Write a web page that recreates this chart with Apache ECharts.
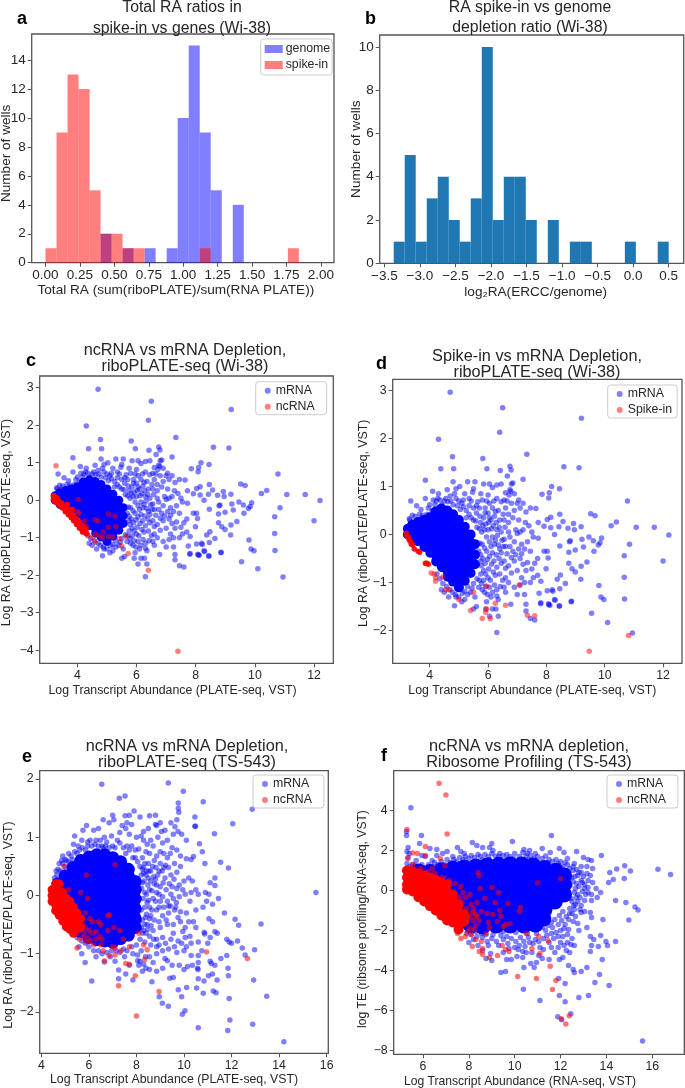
<!DOCTYPE html>
<html><head><meta charset="utf-8">
<style>html,body{margin:0;padding:0;background:#fff}#c{width:685px;height:1088px}</style>
<script src="https://cdn.jsdelivr.net/npm/echarts@6/dist/echarts.min.js"></script>
</head><body><div id="c"></div>
<script>
const raEdges=[0,.08,.16,.24,.32,.4,.48,.56,.64,.72,.8,.88,.96,1.04,1.12,1.2,1.28,1.36,1.44,1.52,1.6,1.68,1.76,1.84,1.92,2];
const raGenome=[0,0,0,0,0,2,0,1,0,1,0,1,10,15,9,5,0,4,0,0,0,0,0,0,0];
const raSpike=[1,9,13,12,5,2,2,1,1,0,0,0,0,0,1,0,0,0,0,0,0,0,1,0,0];
const ratioEdges=[-3.369,-3.214,-3.059,-2.904,-2.749,-2.594,-2.44,-2.285,-2.13,-1.975,-1.82,-1.665,-1.511,-1.356,-1.201,-1.046,-.891,-.736,-.582,-.427,-.272,-.117,.038,.191,.345,.5];
const ratioCounts=[1,5,1,3,4,2,1,3,10,2,4,4,2,0,2,0,1,1,0,0,0,1,0,0,1];

const wi38Mrna=[[4.7,2.96],[6.5,2.64],[9.2,2.42],[6.4,2.13],[4.3,1.98],[7.33,1.67],[4.78,1.62],[5.82,1.58],[6.75,1.42],[8.6,1.41],[9.12,1.39],[6.79,1.34],[6.42,1.33],[5.96,1.37],[4.38,1.37],[4.82,1.37],[7.2,1.15],[3.85,1.13],[6.66,1.22],[6.85,1.07],[8.18,1],[8.45,.95],[8.1,.87],[7.85,.84],[8.08,.76],[10.78,.7],[9.52,.43],[9.67,.39],[10.4,.26],[10.22,.18],[11.08,.15],[11.7,.15],[12.2,-.01],[12,-.55],[10.85,-.2],[10.67,-.44],[10.67,-.89],[10.68,-1.34],[9.8,-1.06],[9.87,-1.3],[9.97,-1.35],[9.55,-1.64],[10.1,-1.83],[10.95,-2.05],[7.6,-1.78],[7.45,-1.75],[6.3,-2.04],[7.3,-1.59],[6.05,-1.7],[8.85,-1.4],[8.44,-1.49],[8.12,-1.47],[8.07,-1.44],[7.8,-1.44],[8.3,-1.37],
[7.64,.54],[7.72,.25],[7.92,.17],[8.03,.31],[8.15,.36],[8.46,.42],[8.57,.27],[8.43,.16],[8.74,.13],[8.93,.23],[8.96,.1],[9.19,.16],[9.22,-.1],[9.46,-.05],[9.27,-.26],[8.99,-.32],[8.77,-.37],[8.79,-.15],[8.82,-.13],[8.46,-.24],[8.28,0],[8.15,.14],[7.92,-.35],[8.06,-.49],[8.03,-.35],[7.72,-.08],[8.2,-1.15],[8.37,-.93],[8.48,-.84],[8.65,-1.02],[8.77,-.6],[8.88,-.71],[8.99,-.78],[9.19,-.66],[9.18,-.93],[9.39,-.57],[9.61,-.13],[9.89,-.07],[9.84,-.17],[9.78,-.22],[9.63,-.35],[7.99,-.71],[7.81,-.97],[7.75,-1.22],[8.03,-1.17],[8.22,-1.18],[8.46,-1.13],[7.81,-1.42],[8.09,-1.46],[8.28,-1.35],[8.45,-1.49],[8.86,-1.39],
[7.3,.47],[7.45,.55],[7.05,.72],[7.2,.65],[6.9,.85],[6.75,.93],[6.78,.9],[6.6,.87],[6.8,1.05],[6.45,1.05],[6.3,1.03],[6.05,1.05],[6.15,.98],[5.85,1.05],[5.55,1.1],[5.3,1.1],[5.03,1],[4.9,.95],[4.6,.93],[4.8,1.1],[4.22,.7],[3.85,.75],[3.35,.7],[3.55,.6],[3.7,.52],[3.3,.33],[3.4,.4],[4.3,.85],[4.1,.9],[4.7,.8],[4.85,.85],[5.2,.85],[5.5,.95],[5.47,.88],[5.75,.85],[6,.82],[6.3,.75],[6.65,.7],[6.8,.65],[7,.65],[7.1,.55],[6.9,.5],[6.7,.42],[6.6,.55],[6.35,.5],[6.05,.65],[5.9,.55],[5.65,.68],[6.15,.55],[6.4,.3],[6.7,.25],[6.85,.35],[7.05,.3],[7.28,.25],[7.2,.1],[7.1,.05],[6.95,.1],[7.4,.18],[7.5,.05],[7.55,-.05],[7.35,-.15],[7.15,-.2],[7.05,-.3],[6.9,-.15],[6.75,-.05],[6.55,-.1],[6.3,.1],[6.15,-.05],[6.4,-.3],[6.65,-.4],[6.9,-.55],[7.1,-.5],[7.2,-.62],[7.35,-.58],[7.3,-.75],[7.15,-.9],[7,-.75],[6.8,-.8],[6.6,-.7],[6.45,-.6],[6.2,-.55],[6.25,-.85],[6.5,-.95],[6.7,-1],[6.9,-1.1],[7.1,-1.05],[7.25,-1],[7.45,-1],[7.55,-.9],[7.7,-.85],[7.6,-.6],[7.45,-.35],[7.7,-.5],[7.25,-1.25],[7.3,-1.45],[7,-1.25],[6.78,-1.45],[6.6,-1.2],[6.35,-1.35],[6.3,-1.15],[6.15,-1.2],[5.95,-1.4],[5.92,-1.55],[6.15,-1.55],[6.27,-1.55],[6.35,-1.7],[5.6,-1.5],[5.5,-1.55],[5.8,-1.15],[5.55,-1.3],[5.7,-.95],[6,-.9],[5.85,-.75],[5.75,-.55],[5.95,-.35],[6.1,-.25],[5.8,-.2],[6,.1],[5.75,.25],[5.85,.35],[6.1,.3],[6,.45],[5.6,.45],[5.5,.55],[5.35,.6],[5.1,.65],[5,.7],[5.25,.5],[4.9,-1.3],[5.1,-1.4],[4.85,-1.48],[5.3,-1.25],[4.65,-1.3],[4.5,-1.2],[4.4,-1.15],[5.2,-1.35]];
const wi38Fringe=[[3.32,.3],[3.45,.28],[3.5,.38],[3.65,.42],[3.75,.4],[3.9,.42],[3.95,.55],[4,.62],[4.08,.5],[4.12,.72],[4.18,.62],[4.28,.75],[4.35,.72],[4.42,.62],[4.5,.7],[4.55,.75],[4.62,.68],[4.72,.7],[4.8,.62],[4.9,.75],[4.95,.6],[5.05,.52],[5.15,.58],[5.25,.35],[5.35,.42],[5.42,.35],[5.5,.3],[5.58,.28],[5.62,.15],[5.7,.12],[5.72,.38],[5.78,.05],[5.82,.18],[5.88,.1],[5.92,.22],[5.95,-.05],[6.02,.25],[6.05,-.15],[6.12,.12],[6.18,.18],[6.22,.38],[6.25,-.12],[6.28,.25],[6.32,-.02],[6.38,.15],[6.45,.05],[6.48,-.12],[6.52,.42],[6.58,.15],[6.6,-.25],[5.68,-.35],[5.72,-.18],[5.75,-.42],[5.78,-.65],[5.82,-.5],[5.88,-.28],[5.9,-.6],[5.92,-.82],[5.98,-.52],[6.02,-.72],[6.05,-.45],[6.08,-.95],[6.12,-.62],[6.15,-.38],[6.18,-.78],[6.22,-.2],[6.28,-.42],[6.3,-.68],[6.35,-.22],[6.38,-.5],[6.4,-.82],[6.45,-.38],[6.52,-.25],[6.55,-.55],[6.6,-.9],[6.7,-.65],[6.75,-.25],[6.8,-.48],[5.62,-.92],[5.68,-1.1],[5.75,-.82],[5.78,-1.02],[5.85,-.95],[5.88,-1.2],[5.92,-1.08],[5.98,-1.25],[6.05,-1.1],[6.1,-1.3],[6.22,-1.05],[6.3,-1.28],[6.42,-1.08],[6.55,-1.1],[5.5,-1.02],[5.45,-1.12],[5.4,-1.2],[5.3,-1.08],[5.2,-1.18],[5.12,-1.22],[5,-1.3],[4.88,-1.25],[4.78,-1.2],[4.7,-1.15],[4.58,-1.08],[4.45,-1.02],[4.35,-.92],[4.25,-.82],[5.15,.72],[5.35,.75],[5.42,.7],[5.6,.6],[5.7,.55],[5.8,.72],[5.95,.7],[6.2,.7],[6.45,.68],[6.55,.72],[6.72,.82],[3.48,.2],[3.55,.25],[3.7,.32],[5.9,.45],[6.05,.35],[6.25,.48],[6.55,.3],[6.7,.05],[6.85,-.35],[7,.02],[7.15,-.4],[6.95,-.42],[7.25,-.3],[7.5,-.72]];
const wi38Core=[[3.25,.12],[3.25,0],[3.4,.2],[3.4,.08],[3.4,-.04],[3.42,-.12],[3.6,.26],[3.6,.12],[3.6,-.02],[3.6,-.14],[3.8,.3],[3.8,.16],[3.8,.02],[3.8,-.12],[3.82,-.26],[4,.36],[4,.22],[4,.08],[4,-.06],[4,-.22],[4.02,-.38],[4.2,.48],[4.2,.34],[4.2,.18],[4.2,.02],[4.2,-.12],[4.2,-.28],[4.2,-.42],[4.22,-.56],[4.4,.54],[4.4,.38],[4.4,.22],[4.4,.06],[4.4,-.1],[4.4,-.26],[4.4,-.42],[4.4,-.56],[4.42,-.68],[4.6,.5],[4.6,.34],[4.6,.18],[4.6,.02],[4.6,-.14],[4.6,-.3],[4.6,-.46],[4.6,-.62],[4.62,-.78],[4.62,-.88],[4.8,.42],[4.8,.26],[4.8,.1],[4.8,-.06],[4.8,-.22],[4.8,-.38],[4.8,-.54],[4.8,-.7],[4.8,-.86],[4.8,-.98],[5,.3],[5,.14],[5,-.02],[5,-.18],[5,-.34],[5,-.5],[5,-.66],[5,-.82],[5,-.98],[5,-1.1],[5.2,.16],[5.2,0],[5.2,-.16],[5.2,-.32],[5.2,-.48],[5.2,-.64],[5.2,-.8],[5.2,-.96],[5.4,0],[5.4,-.16],[5.4,-.32],[5.4,-.48],[5.4,-.64],[5.4,-.8],[5.55,-.2],[5.55,-.42],[5.55,-.62]];
const wi38Nc=[[3.28,.92],[4.03,.02],[4.6,-.52],[5.05,-.37],[5.27,-.42],[5.3,-.7],[5.05,-.72],[4.88,-.85],[4.72,-.95],[4.6,-.9],[4.5,-1],[4.6,-1.12],[4.85,-1],[5.05,-.97],[5.2,-.98],[5.42,-1.03],[5.65,-.97],[5.5,-1.22],[5.72,-1.42],[6.4,-1.87],[7.4,-4.03],[4.05,-.35],[4.25,-.55],[4,-.3],[4.35,-.95],[4.7,-.55],[4.3,-.7]];
const wi38NcCore=[[3.2,.12],[3.2,.04],[3.22,-.02],[3.3,.06],[3.3,-.06],[3.36,-.02],[3.4,-.14],[3.46,-.08],[3.5,-.2],[3.56,-.16],[3.6,-.3],[3.66,-.24],[3.7,-.38],[3.76,-.32],[3.8,-.46],[3.86,-.4],[3.88,-.54],[3.96,-.5],[3.98,-.64],[4.06,-.58],[4.08,-.74],[4.16,-.68],[4.18,-.84],[4.28,-.78],[4.3,-.88],[3.65,-.12],[3.82,-.25]];
const wi38Spike=[[4.05,-.8],[4.15,-.82],[4.2,-.9],[4.2,-.97],[4.45,-.88],[4.55,-1.15],[4.65,-1.15],[5,-1.35],[5.4,-1.58],[5.5,-1.2],[5.95,-1.07],[5.95,-1.55],[6.25,-1.43],[6.6,-1.47],[7.07,-1.05],[7.35,-1.68],[7.6,-1.69],[5.8,-1.75],[6.08,-1.75],[5.92,-1.62],[10.82,-2.1],[9.47,-2.43]];
const wi38SpikeCore=[[3.2,.02],[3.22,-.03],[3.27,-.06],[3.3,-.12],[3.35,-.15],[3.37,-.2],[3.42,-.22],[3.47,-.3],[3.6,-.35],[3.65,-.37],[3.85,-.6],[3.9,-.6],[3.95,-.62]];

const ts543Mrna=[[6.54,1.91],[9.34,1.93],[9.97,1.79],[10.81,1.61],[7.28,1.67],[7.52,1.71],[9.76,1.59],[9.76,1.5],[9.78,1.43],[12.87,1.48],[12.05,1.23],[11.28,1.06],[10.46,1.19],[10.48,1.19],[10.46,1.35],[10.65,.89],[10.77,.75],[10.88,.55],[11.54,.57],[11.87,.47],[15.55,.05],[13.24,-.49],[12.15,-.41],[12.3,-.51],[11.7,-.3],[12.97,-.93],[12.57,-1.02],[13.48,-1.73],[12.93,-1.45],[12.89,-2.21],[14.2,-2.51],[11.84,-2.32],[11.93,-2.14],[10.6,-2.27],[11.9,-1.77],[6.12,-1.47],[5.84,-1.15],[5.7,-1],[5.58,-.88],[9.93,-2.04],[10.04,-1.98],[9.34,-1.9],[9.09,-1.85],[8.96,-1.74],[9.76,-1.62],[9.9,-1.74],[10.53,-1.59],[10.11,-1.58],[10.81,-1.68],[11.23,-1.64],[11.35,-1.67],[11.39,-1.45],[10.84,-1.47],[10.57,-1.25],[10.59,-1.27],
[7.9,1.45],[7.7,1.38],[7.52,1.37],[7,1.38],[6.6,1.3],[6.85,1.25],[7.05,1.3],[7.6,1.25],[8.15,1.35],[8.55,1.37],[8.8,1.38],[9,1.25],[8.8,1.22],[8.85,1.2],[7.4,1.2],[7.55,1.15],[7.8,1.22],[8.3,1.1],[8.5,1.15],[9.05,1.1],[9.2,1.12],[9.45,1.25],[9.7,1.3],[9.55,1.05],[9.75,1.1],[9.9,1.05],[10.1,.95],[9.3,.95],[9.1,.9],[8.9,1],[8.6,.95],[8.3,.95],[8,1],[7.7,1.05],[7.3,1.08],[6.95,1.02],[6.65,1],[6.4,1.15],[6.2,1.12],[5.9,1.2],[5.75,1.12],[5.4,1.02],[5.7,.95],[5.35,.88],[5.55,.85],[5.15,.72],[5.4,.75],[4.9,.68],[4.85,.6],[4.75,.55],[5.05,.6],[4.7,.45],[7.8,.85],[8.1,.8],[8.4,.75],[8.7,.85],[9,.75],[9.3,.65],[9.5,.82],[9.7,.78],[9.85,.68],[10.1,.63],[10.3,.62],[10.4,.67],[9.85,.5],[9.6,.55],[9.35,.48],[9,.55],[8.75,.6],[8.5,.55],[8.9,.35],[9.2,.3],[9.45,.35],[9.7,.4],[10,.25],[10.2,.3],[9.8,.18],[9.5,.15],[9.25,.1],[9,.15],[8.75,.2],[8.55,.1],[8.7,-.05],[9,-.1],[9.3,-.1],[9.55,-.05],[9.8,-.02],[10.05,.02],[10.3,.05],[10.25,-.1],[10.5,.1],[10.35,.25],[10.6,.02],[10.9,.05],[11.05,.02],[11.1,.22],[11.3,.17],[11.3,.3],[11.45,-.05],[11.2,-.15],[10.95,-.1],[10.8,-.2],[11.05,-.4],[11.2,-.45],[10.5,-.25],[10.1,-.3],[9.85,-.28],[9.6,-.25],[9.35,-.3],[9.1,-.35],[8.85,-.25],[8.6,-.35],[8.45,-.5],[8.7,-.6],[9,-.55],[9.3,-.5],[9.55,-.5],[9.85,-.45],[10.05,-.55],[10.4,-.45],[10.5,-.55],[10.85,-.63],[10.87,-.66],[11.1,-.72],[11.3,-.62],[11.4,-.65],[11.8,-.75],[11.9,-.8],[12,-.82],[12.25,-.78],[12.45,-.9],[10.6,-.8],[10.3,-.82],[10.05,-.72],[9.75,-.78],[9.45,-.75],[9.1,-.72],[8.85,-.75],[8.6,-.85],[8.35,-.8],[8.2,-.95],[8.55,-1.05],[8.85,-1],[9.1,-.95],[9.35,-.92],[9.7,-.98],[10,-.95],[10.1,-.88],[10.3,-1.03],[10.6,-1.03],[10.6,-1.15],[11.1,-1.13],[11.15,-1.17],[11.3,-1.2],[11.55,-1.08],[11.8,-1.03],[11.85,-1.25],[11.87,-1.38],[11.2,-1.35],[11.03,-1.38],[10.6,-1.43],[10.15,-1.22],[10,-1.27],[9.8,-1.2],[9.5,-1.2],[9.1,-1.25],[8.85,-1.3],[8.55,-1.27],[8.4,-1.25],[8.1,-1.2],[7.85,-1.45],[7.55,-1.35],[7.25,-1.43],[7.25,-1.28],[7.7,-1.2],[8.25,-1.3],[8.65,-1.48],[9.4,-1.42],[9.55,-1.41],[6.65,-1.14],[6.3,-1.05],[6.9,-1.05],[7.1,-1.13],[7.5,-1.05],[7.85,-1],[8.15,-1.13],[8.05,-1.12],[8.85,-.88],[5.7,.2],[8.35,.55],[8.2,.35],[8.5,.3],[8.35,.05],[8.55,-.2],[7.95,.65],[8.25,.65],[7.6,.85],[7.3,.9],[7,.85],[6.7,.85],[6.3,.95],[6.05,.95],[5.95,.85],[6.55,.85],[4.6,.25],[4.65,.35],[5,.5],[5.2,.5]];
const ts543Fringe=[[4.55,.3],[4.62,.42],[4.8,.42],[4.9,.55],[5,.62],[5.15,.58],[5.25,.68],[5.3,.62],[5.5,.72],[5.6,.78],[5.72,.82],[5.85,.78],[5.95,.92],[6.12,.85],[6.25,.88],[6.4,.85],[6.48,.95],[6.6,.82],[6.75,.92],[6.85,.82],[7.1,.82],[7.2,.95],[7.45,.82],[7.55,.72],[7.7,.78],[7.85,.65],[7.95,.78],[8.05,.58],[8.15,.5],[8.25,.45],[8.3,.38],[8.42,.42],[8.48,.18],[8.6,.42],[8.65,.08],[8.72,.32],[8.82,.48],[8.85,.05],[8.95,.42],[9.08,.42],[9.12,.22],[9.22,.52],[9.38,.2],[9.45,.02],[9.58,.28],[9.1,-.02],[8.95,-.2],[8.8,-.1],[8.65,-.25],[8.55,-.4],[8.42,-.32],[8.5,-.08],[8.75,-.42],[8.95,-.45],[9.15,-.2],[9.25,-.42],[9.42,-.18],[9.68,-.12],[9.75,-.38],[8.4,-.65],[8.55,-.7],[8.72,-.75],[8.3,-.6],[8.15,-.75],[8,-.85],[7.8,-.88],[7.6,-.95],[7.45,-.92],[7.3,-.98],[7.15,-.95],[6.95,-.95],[6.75,-.98],[6.55,-1],[6.4,-.95],[6.2,-.95],[6,-.88],[5.85,-.82],[5.7,-.78],[5.5,-.72],[8.95,-.85],[9.22,-.82],[9.55,-.65],[9.95,-.62],[9.2,-1.08],[8.7,-1.15],[8.38,-1.05],[8.05,-1.02],[9.6,-.88],[9.9,-.82],[9.62,1.18],[8.2,1.02],[8.45,.88],[8.55,.72],[8.85,.68],[9.15,.72],[9.42,.72],[8.6,.25],[8.32,.25],[8.45,-.12],[9.7,.12],[9.95,.1],[9.65,-.2],[8.25,-.42],[8.35,-.2],[8.35,-.5],[9.15,.48],[8.95,.02],[8.85,.18],[9.35,-.18],[10.2,-.45],[10.25,-.7],[11,-.82],[10.75,-.95],[10.35,-1.2],[9.3,-1.12],[8.3,-1.18],[8.22,.12],[8.28,-.05],[8.4,.35],[8.42,.02],[8.3,.48],[8.52,.42],[8.38,-.38],[8.48,-.58],[8.2,-.55],[8.25,.22],[8.62,-.52],[8.68,.5],[8.8,.28],[8.2,-.25],[8.12,-.45],[8.25,-.65]];
const ts543Core=[[4.7,.2],[4.7,.03],[4.7,-.14],[5,.34],[5,.2],[5,.06],[5,-.11],[5,-.28],[5.33,.48],[5.33,.34],[5.33,.21],[5.33,.04],[5.33,-.13],[5.33,-.3],[5.33,-.47],[5.66,.6],[5.66,.45],[5.66,.31],[5.66,.14],[5.66,-.03],[5.66,-.2],[5.66,-.37],[5.66,-.54],[5.66,-.62],[6,.66],[6,.52],[6,.38],[6,.21],[6,.04],[6,-.13],[6,-.3],[6,-.47],[6,-.64],[6,-.72],[6.33,.7],[6.33,.56],[6.33,.41],[6.33,.24],[6.33,.07],[6.33,-.1],[6.33,-.27],[6.33,-.44],[6.33,-.61],[6.33,-.76],[6.66,.7],[6.66,.56],[6.66,.41],[6.66,.24],[6.66,.07],[6.66,-.1],[6.66,-.27],[6.66,-.44],[6.66,-.61],[6.66,-.78],[7,.65],[7,.53],[7,.36],[7,.19],[7,.02],[7,-.15],[7,-.32],[7,-.49],[7,-.66],[7,-.8],[7.33,.58],[7.33,.45],[7.33,.28],[7.33,.11],[7.33,-.06],[7.33,-.23],[7.33,-.4],[7.33,-.57],[7.33,-.74],[7.66,.45],[7.66,.33],[7.66,.16],[7.66,-.01],[7.66,-.18],[7.66,-.35],[7.66,-.52],[7.66,-.68],[7.95,.24],[7.95,.1],[7.95,-.06],[7.95,-.23],[7.95,-.4],[7.95,-.55]];
const ts543Nc=[[4.95,.5],[7.1,.53],[5.9,.35],[5.15,.1],[5.65,.05],[5.95,-.05],[5.75,-.5],[6.05,-.4],[6.15,-.45],[6.4,-.45],[6.3,-.62],[6.45,-.7],[6.8,-.35],[6.85,-.33],[7.05,-.55],[7.3,-.6],[7.45,-.75],[6.8,-.6],[6.55,-.75],[6.2,-.85],[5.9,-.8],[5.6,-.75],[5.45,-.65],[6.5,-.85],[6.6,-.95],[7.1,-.9],[7,-.88],[7.35,-.95],[7.1,-1.02],[6.85,-1.03],[6.65,-1.12],[7.55,-1.17],[7.7,-1.18],[7.7,-.88],[8.1,-.65],[8.3,-.85],[8.45,-.93],[8.35,-1.1],[7.95,-1.38],[7.25,-1.55],[8.95,-1.65],[8,-2.07],[10.95,-.97],[12.67,-1.08],[5.5,-.9],[6,-.6],[5.85,-.3],[6.5,-.5],[5.8,-.65],[5.95,-.72],[6.05,-.78],[6.3,-.75],[6.15,-.65],[5.75,-.72],[5.85,-.55],[5.55,-.62]];
const ts543NcCore=[[4.45,.1],[4.45,0],[4.45,-.1],[4.6,.2],[4.6,.08],[4.6,-.04],[4.6,-.16],[4.6,-.26],[4.75,.2],[4.75,.05],[4.75,-.1],[4.75,-.22],[4.75,-.34],[4.9,.05],[4.9,-.08],[4.9,-.2],[4.9,-.32],[4.9,-.44],[5.05,-.05],[5.05,-.17],[5.05,-.3],[5.05,-.42],[5.05,-.54],[5.2,-.1],[5.2,-.22],[5.2,-.34],[5.2,-.46],[5.2,-.58],[5.35,-.2],[5.35,-.32],[5.35,-.44],[5.35,-.56],[5.35,-.65],[5.5,-.3],[5.5,-.42],[5.5,-.54],[5.65,-.4],[5.65,-.55]];

const teMrna=[[5.47,4.13],[5.28,2.95],[5.28,2.75],[5.93,2.75],[5.85,2.35],[6.3,2.1],[6.6,2.05],[5.35,2.15],[5.3,1.95],[5.4,1.85],[5.35,1.65],[5.3,1.35],[5.42,1.2],[5.7,1.5],[5.95,1.75],[6.1,1.7],[6.6,1.75],[6.85,1.85],[7.05,1.95],[7.3,1.7],[7.5,2.15],[7.65,1.95],[7.8,1.85],[8.15,2.4],[8.35,2.25],[8.6,2.15],[8.9,2.15],[9,2.35],[9.05,2],[9.35,1.85],[9.9,2.45],[10.4,2.05],[10.55,1.85],[10.65,2],[11.6,2.75],[11.2,2.1],[11.95,2.1],[12.15,1.9],[12.7,1.95],[11.55,1.9],[10.9,1.85],[12.3,1.6],[13,1.65],[13.2,1.55],[13.35,1.5],[13.4,1.1],[13.15,1.2],[13.78,1.75],[14.15,.9],[14.45,1.07],[14.8,1.23],[14.78,.6],[14.3,.55],[14.1,.4],[15.05,.97],[16.25,1.06],[16.8,.8],[12.9,1.2],[12.8,.9],[13,.7],[13.2,.5],[13.4,.4],[13.55,.1],[13.75,-.1],[13.6,-.35],[13.35,-.5],[14.4,-.5],[14.85,-.6],[15.25,-.83],[15.38,-.98],[14.98,-1.48],[13.05,-.5],[12.9,-.75],[12.9,-1.1],[13.35,-1.35],[13.85,-1.45],[12.65,-1.3],[12.75,-1.65],[12.8,-2],[13.15,-1.85],[13.3,-2.3],[13.45,-2.45],[13.75,-2.25],[13.98,-2.55],[14.05,-2.75],[14.4,-2.55],[13.35,-2.75],[13.65,-2.8],[13.3,-3.05],[13.82,-3.45],[13.15,-3.85],[12.9,-4.05],[13.7,-4.2],[13.5,-4.6],[14.12,-4.75],[13.22,-5.25],[12.8,-5.35],[12.2,-5.55],[11.95,-5.25],[11.1,-5.5],[10.38,-4.93],[12.45,-6.15],[11.88,-6.3],[12.05,-6.45],[15.58,-7.52],[12.2,-4.65],[11.92,-4.4],[12.55,-3.95],[12.35,-3.75],[12.6,-4.1],[12.1,-3.35],[11.95,-3.45],[12.4,-3.1],[12.6,-2.75],[12.45,-2.7],[12,-2.6],[11.75,-3.1],[11.5,-3.45],[11.2,-3.4],[11.05,-3.25],[10.95,-3.6],[10.85,-3.85],[10.7,-3.65],[10.4,-3.85],[10.35,-3.35],[10.1,-3.3],[9.85,-3.45],[9.65,-3.45],[9.6,-4.05],[9.4,-4.1],[9,-3.5],[8.75,-3.4],[8.95,-3.15],[8.6,-3],[8.4,-2.75],[8,-2.6],[9.5,-3.1],[9.75,-2.9],[10.2,-2.75],[10.45,-2.8],[10.65,-2.6],[11.1,-2.85],[11.5,-2.6],[11.7,-2.4],[10.9,-2.45],[12.1,-2.3],[12.3,-2.2],[12.5,-2.4],[9,-2.4],[9.5,-2.45],[8.6,-2.35],[13.05,-1.05],[13.3,-1.1],[13.2,-.1],[13.05,.1],[12.65,-.7],[12.75,-.2],[12.8,.2],[12.9,.5],[12.55,1],[12.6,1.35],[12.2,1.4],[11.8,1.55],[5.3,1],[5.5,1.05],[5.65,1.25]];
const teFringe=[[5.55,1.3],[5.8,1.2],[5.95,1.3],[6.1,1.15],[6.25,1.3],[6.4,1.2],[6.5,1.4],[6.65,1.3],[6.8,1.45],[6.95,1.3],[7.05,1.55],[7.2,1.4],[7.35,1.55],[7.45,1.45],[7.6,1.65],[7.75,1.55],[7.85,1.7],[8,1.6],[8.1,1.75],[8.25,1.65],[8.4,1.8],[8.5,1.7],[8.7,1.8],[8.85,1.7],[9,1.85],[9.15,1.72],[9.3,1.7],[9.5,1.75],[9.65,1.8],[9.8,1.7],[10,1.85],[10.2,1.7],[10.35,1.9],[10.5,1.72],[10.7,1.75],[10.85,1.6],[11,1.7],[11.2,1.6],[11.35,1.72],[11.5,1.55],[11.65,1.45],[11.9,1.35],[12,1.45],[12.1,1.2],[12.3,1.3],[12.4,1.1],[12.55,1.2],[12.7,1.05],[12.75,.75],[12.9,.9],[12.95,.4],[13.05,.3],[13.15,.85],[13.2,.15],[13.3,.75],[13.35,-.2],[13.1,-.2],[12.85,-.35],[12.95,-.05],[12.6,-.95],[12.75,-.55],[12.85,-.95],[12.5,-1.15],[12.35,-1.45],[12.55,-1.55],[12.2,-1.7],[12.35,-1.95],[12,-2],[12.15,-1.9],[11.8,-2.1],[11.9,-2.3],[11.6,-2.15],[11.4,-2.25],[11.25,-2.4],[11.05,-2.55],[10.8,-2.65],[10.6,-2.35],[10.4,-2.55],[10.25,-2.35],[10.05,-2.55],[9.85,-2.4],[9.65,-2.3],[9.4,-2.25],[9.2,-2.55],[9.05,-2.2],[8.8,-2.55],[8.75,-2.2],[8.55,-2.15],[8.35,-2.3],[8.2,-2.45],[8.1,-2.2],[7.9,-2.15],[8.3,-2.05],[8.85,-2.75],[9.3,-2.75],[10,-2.85],[10.35,-3.05],[10.5,-3.1],[10.15,-2.95],[10.75,-3.1],[11.25,-2.95],[11.6,-2.85],[12.15,-2.75],[12.25,-3],[11.9,-2.85],[12.3,-2.6],[9.7,-2.65],[10.55,-2.15],[10.95,-2.15],[11.35,-2],[11.65,-1.85],[11.9,-1.7],[12.05,-1.5],[12.25,-1.3],[12.4,-.9],[12.45,-.4],[12.65,.1],[6.4,1.5],[7.6,1.35],[8.6,1.55],[9.65,1.55],[10.6,1.55],[11.45,1.4],[7.75,1.35],[8.9,1.55],[9.95,1.6],[10.25,1.5],[11,1.45],[7.15,1.2],[6.7,1.15],[12.55,.45],[12.62,.7],[12.7,.35],[12.6,-.1],[12.68,-.35],[12.5,-.55],[12.4,-1.15],[12.58,-.75],[12.42,.25],[12.48,.65],[12.35,.85],[11.75,-1.45],[11.95,-1.25],[12.1,-1.05],[11.6,-1.6],[11.45,-1.75],[11.2,-1.85],[10.05,-2.1],[9.5,-2.05]];
const teCore=[[5.8,.95],[6.3,.92],[6.8,1],[7.3,1.08],[7.8,1.15],[8.3,1.2],[8.8,1.25],[9.3,1.28],[9.8,1.3],[10.3,1.3],[10.8,1.25],[11.3,1.12],[11.8,.98],[12.15,.75],[7.3,.5],[7.8,.65],[8.3,.7],[8.8,.8],[9.3,.85],[9.8,.85],[10.3,.85],[10.8,.8],[11.3,.7],[11.8,.5],[12.15,.3],[7.3,0],[7.8,.1],[8.3,.15],[8.8,.25],[9.3,.3],[9.8,.3],[10.3,.3],[10.8,.25],[11.3,.15],[11.8,0],[12.15,-.2],[7.3,-.5],[7.8,-.45],[8.3,-.4],[8.8,-.3],[9.3,-.25],[9.8,-.25],[10.3,-.25],[10.8,-.3],[11.3,-.4],[11.75,-.55],[7.4,-1],[7.8,-1],[8.3,-.95],[8.8,-.85],[9.3,-.8],[9.8,-.8],[10.3,-.8],[10.8,-.85],[11.3,-.95],[7.6,-1.55],[8.3,-1.5],[8.8,-1.4],[9.3,-1.35],[9.8,-1.35],[10.3,-1.35],[10.8,-1.4],[11.25,-1.4],[8.1,-1.75],[8.6,-1.8],[9.2,-1.75],[9.8,-1.75],[10.4,-1.75],[10.9,-1.7],[6,.5],[6.5,.5],[6.8,.3],[6.9,-.7],[7.1,-1.2]];
const teNc=[[6.7,5.35],[7,4.77],[5.3,3.05],[7.05,2.82],[6.1,2.2],[5.55,1.87],[5.75,1.85],[6.1,1.75],[6.75,1.6],[6.95,1.25],[5.33,1.6],[6.4,1.1],[8.4,.9],[8.45,.75],[11,.38],[12,.58],[8.5,.1],[9,.15],[9.7,-.65],[10.25,-.85],[10.2,-1.05],[9.3,-.1],[9.15,-.6],[8.7,-.4],[8.35,-.6],[8.1,-.7],[7.9,-.9],[7.7,-.6],[7.95,-1.3],[8.3,-1.2],[8.55,-1.05],[8.8,-1.15],[9.05,-1.2],[9.35,-1],[9.4,-1.3],[9.25,-1.55],[9.6,-1.7],[9.8,-1.65],[9.5,-1.8],[8.9,-1.85],[8.85,-1.6],[8.45,-1.5],[8.3,-1.75],[8.05,-1.9],[7.75,-1.7],[7.85,-2.3],[7.65,-2.4],[8.15,-2.8],[8.55,-2.55],[8.6,-2.9],[8.45,-3.05],[8.6,-3.2],[8.9,-3.35],[9.25,-3.25],[9.6,-2.95],[9.45,-2.75],[9.75,-3.05],[10.5,-2.15],[11.05,-2.3],[11.45,-2.5],[10.75,-2.9],[11.1,-3.15],[11.55,-3.78],[11.8,-4.5],[11.65,-4.95],[10.95,-4.4],[10.13,-4.3],[12.38,-6.25],[12.03,-6.4],[12.23,-6.67],[7.5,-2.15],[8.2,-.9],[7.9,-1.55],[8.05,-1.35],[8.2,-1.5],[8.35,-1.3],[8.15,-1.1],[7.85,-.35],[8.05,-.2],[7.75,-.1],[7.65,.2],[7.4,.35],[7.15,.5],[6.85,.65],[6.5,.85],[6.2,.95],[5.9,1.1],[5.55,1.3],[7.6,-.35],[8.25,-1.95],[8.1,-2.2],[7.95,-2.05],[8.75,-2.15],[8.3,-2.45]];
const teNcCore=[[5.3,1],[5.3,.65],[5.3,.3],[5.3,.05],[5.55,.95],[5.55,.6],[5.55,.25],[5.55,-.05],[5.8,.85],[5.8,.5],[5.8,.15],[5.8,-.2],[5.8,-.34],[6.05,.75],[6.05,.4],[6.05,.05],[6.05,-.3],[6.05,-.55],[6.3,.65],[6.3,.3],[6.3,-.05],[6.3,-.4],[6.3,-.78],[6.55,.55],[6.55,.2],[6.55,-.15],[6.55,-.5],[6.55,-1],[6.55,-.8],[6.8,.4],[6.8,.05],[6.8,-.3],[6.8,-.65],[6.8,-1],[6.8,-1.25],[7.05,.3],[7.05,-.05],[7.05,-.4],[7.05,-.75],[7.05,-1.1],[7.05,-1.5],[7.3,-.2],[7.3,-.55],[7.3,-.9],[7.3,-1.25],[7.3,-1.6],[7.55,-.7],[7.55,-1.05],[7.55,-1.4],[7.55,-1.75],[7.55,-1.95],[7.8,-1.2],[7.8,-1.55]];

const TXT='#262626',FONT='Liberation Sans',BLUE='#0000ff',RED='#ff0000';
const tick0=[0,.25,.5,.75,1,1.25,1.5,1.75,2],tickA=[0,2,4,6,8,10,12,14],tickB=[-3.5,-3,-2.5,-2,-1.5,-1,-.5,0,.5],tickB2=[0,2,4,6,8,10];
const panels=[
 {l:31.7,r:334,t:34,b:262.7,xMin:-.1,xMax:2.095,yMin:0,yMax:15.8,xt:tick0,yt:tickA,xf:v=>v.toFixed(2),xn:'Total RA (sum(riboPLATE)/sum(RNA PLATE))',yn:'Number of wells',yg:18.5,xg:21,fs:13.6,ts:13.5,xs:-7,ys:5},
 {l:379.7,r:683.7,t:35,b:263.3,xMin:-3.566,xMax:.711,yMin:0,yMax:10.55,xt:tickB,yt:tickB2,xf:v=>v.toFixed(1),xn:'log₂RA(ERCC/genome)',yn:'Number of wells',yg:16,xg:22,fs:13.6,ts:13.5,xs:4,ys:0},
 {l:39.7,r:333.3,t:376,b:663.3,xMin:2.727,xMax:12.65,yMin:-4.35,yMax:3.31,xt:[4,6,8,10,12],yt:[-4,-3,-2,-1,0,1,2,3],xn:'Log Transcript Abundance (PLATE-seq, VST)',yn:'Log RA (riboPLATE/PLATE-seq, VST)',yg:27,xg:21,fs:12.3,ts:12.3,xs:-14,ys:3},
 {l:392.7,r:682,t:379.3,b:663.3,xMin:2.73,xMax:12.65,yMin:-2.68,yMax:3.23,xt:[4,6,8,10,12],yt:[-2,-1,0,1,2,3],xn:'Log Transcript Abundance (PLATE-seq, VST)',yn:'Log RA (riboPLATE/PLATE-seq, VST)',yg:23,xg:21,fs:12.3,ts:12.3,xs:-5,ys:2},
 {l:39.7,r:328.3,t:770.7,b:1053.3,xMin:3.93,xMax:16.07,yMin:-2.71,yMax:2.143,xt:[4,6,8,10,12,14,16],yt:[-2,-1,0,1,2],xn:'Log Transcript Abundance (PLATE-seq, VST)',yn:'Log RA (riboPLATE/PLATE-seq, VST)',yg:25,xg:20.5,fs:12.3,ts:12.3,xs:-10,ys:13},
 {l:393.7,r:684.3,t:770.7,b:1054.3,xMin:4.72,xMax:17.4,yMin:-8.18,yMax:5.98,xt:[6,8,10,12,14,16],yt:[-8,-6,-4,-2,0,2,4],xn:'Log Transcript Abundance (RNA-seq, VST)',yn:'log TE (ribsome profiling/RNA-seq, VST)',yg:25.5,xg:21,fs:12.1,ts:12.3,xs:-19,ys:6.5}
];
const minus=s=>s.replace('-','\u2212');
const shiftPad=s=>s>=0?[0,0,0,2*s]:[0,-2*s,0,0];
const grid=[],xAxis=[],yAxis=[];
panels.forEach((p,i)=>{
 grid.push({show:true,left:p.l,top:p.t,width:p.r-p.l,height:p.b-p.t,outerBoundsMode:'none',borderColor:'#555',borderWidth:1.3,backgroundColor:'#fff',z:0});
 const base={type:'value',gridIndex:i,splitLine:{show:false},axisLine:{show:false,onZero:false},nameLocation:'middle',nameMoveOverlap:false};
 const tick=v=>({show:true,length:4,lineStyle:{color:'#555',width:1},customValues:v});
 xAxis.push({...base,position:'bottom',min:p.xMin,max:p.xMax,name:p.xn,nameGap:p.xg,nameTextStyle:{fontFamily:FONT,fontSize:p.fs,color:TXT,padding:shiftPad(p.xs)},
  axisTick:tick(p.xt),axisLabel:{fontFamily:FONT,fontSize:p.ts,color:TXT,margin:6,customValues:p.xt,formatter:v=>minus(p.xf?p.xf(v):String(v))}});
 yAxis.push({...base,position:'left',min:p.yMin,max:p.yMax,name:p.yn,nameGap:p.yg,nameTextStyle:{fontFamily:FONT,fontSize:p.fs,color:TXT,padding:shiftPad(-p.ys)},
  axisTick:tick(p.yt),axisLabel:{fontFamily:FONT,fontSize:p.ts,color:TXT,margin:6,customValues:p.yt,formatter:v=>minus(String(v))}});
});
const bins=(edges,counts)=>counts.map((c,i)=>[(edges[i]+edges[i+1])/2,c]).filter(d=>d[1]>0);
const barBase={type:'bar',barWidth:11,barGap:'-100%',silent:true};
const dots=(name,i,data,color,size,opacity,z)=>({type:'scatter',name,xAxisIndex:i,yAxisIndex:i,data,symbolSize:size,silent:true,z,itemStyle:{color,opacity}});
const series=[
 {...barBase,name:'genome',xAxisIndex:0,yAxisIndex:0,data:bins(raEdges,raGenome),itemStyle:{color:BLUE,opacity:.5},z:2},
 {...barBase,name:'spike-in',xAxisIndex:0,yAxisIndex:0,data:bins(raEdges,raSpike),itemStyle:{color:RED,opacity:.5},z:3},
 {...barBase,name:'ratio',xAxisIndex:1,yAxisIndex:1,data:bins(ratioEdges,ratioCounts),itemStyle:{color:'#1f77b4'},z:2},
 dots('mRNA',2,[...wi38Mrna,...wi38Fringe],BLUE,5.5,.5,2),dots('mRNA dense',2,wi38Core,BLUE,9,1,2),dots('ncRNA',2,wi38Nc,RED,5.5,.5,4),dots('ncRNA dense',2,wi38NcCore,RED,6,1,3),
 dots('mRNA',3,[...wi38Mrna,...wi38Fringe],BLUE,5.5,.5,2),dots('mRNA dense',3,wi38Core,BLUE,10,1,2),dots('Spike-in',3,wi38Spike,RED,5.5,.5,4),dots('Spike-in dense',3,wi38SpikeCore,RED,5.5,.9,3),
 dots('mRNA',4,[...ts543Mrna,...ts543Fringe],BLUE,5.5,.5,2),dots('mRNA dense',4,ts543Core,BLUE,13,1,2),dots('ncRNA',4,ts543Nc,RED,5.5,.55,4),dots('ncRNA dense',4,ts543NcCore,RED,9,1,3),
 dots('mRNA',5,[...teMrna,...teFringe],BLUE,5.5,.5,2),dots('mRNA dense',5,teCore,BLUE,16,1,2),dots('ncRNA',5,teNc,RED,5.5,.55,4),dots('ncRNA dense',5,teNcCore,RED,10,1,3)
];
const leg=(left,top,names,icon,iw,ih,pad)=>({left,top,orient:'vertical',data:names,icon,itemWidth:iw,itemHeight:ih,itemGap:4,padding:pad,selectedMode:false,
 backgroundColor:'rgba(255,255,255,.8)',borderColor:'#ccc',borderWidth:1,borderRadius:3,textStyle:{fontFamily:FONT,fontSize:12.3,color:TXT,padding:[0,0,0,-2]},z:10});
const legend=[leg(260.7,39,['genome','spike-in'],'rect',18,8,[4,2,4,4]),leg(255.7,381.7,['mRNA','ncRNA'],'circle',10,6,[3,12,2,9]),leg(607.7,385,['mRNA','Spike-in'],'circle',10,6,[3,5,2,9]),leg(253,775,['mRNA','ncRNA'],'circle',10,6,[3,12,2,9]),leg(607,775,['mRNA','ncRNA'],'circle',10,6,[3,12,2,9])];
const ttl=(x,y,text,fs,lh)=>({text,left:x,top:y,textAlign:'center',padding:0,textStyle:{fontFamily:FONT,fontWeight:'normal',fontSize:fs,color:TXT,lineHeight:lh}});
const letter=(x,y,text)=>({text,left:x,top:y,padding:0,textStyle:{fontFamily:FONT,fontWeight:'bold',fontSize:18,color:'#000'}});
const title=[
 ttl(182,-3,'Total RA ratios in\nspike-in vs genes (Wi-38)',15.8,21),ttl(530,-2,'RA spike-in vs genome\ndepletion ratio (Wi-38)',15.8,20),
 ttl(185,343,'ncRNA vs mRNA Depletion,\nriboPLATE-seq (Wi-38)',16.3,16),ttl(537,349,'Spike-in vs mRNA Depletion,\nriboPLATE-seq (Wi-38)',16.3,16),
 ttl(187,739,'ncRNA vs mRNA Depletion,\nriboPLATE-seq (TS-543)',16.3,16),ttl(529,739,'ncRNA vs mRNA depletion,\nRibosome Profiling (TS-543)',16.3,16),
 letter(17,10,'a'),letter(365,10,'b'),letter(26,352,'c'),letter(376,355,'d'),letter(22,748,'e'),letter(381,747,'f')];
const chart=echarts.init(document.getElementById('c'),null,{renderer:'canvas'});
chart.setOption({animation:false,backgroundColor:'#fff',title,legend,grid,xAxis,yAxis,series});
</script></body></html>
